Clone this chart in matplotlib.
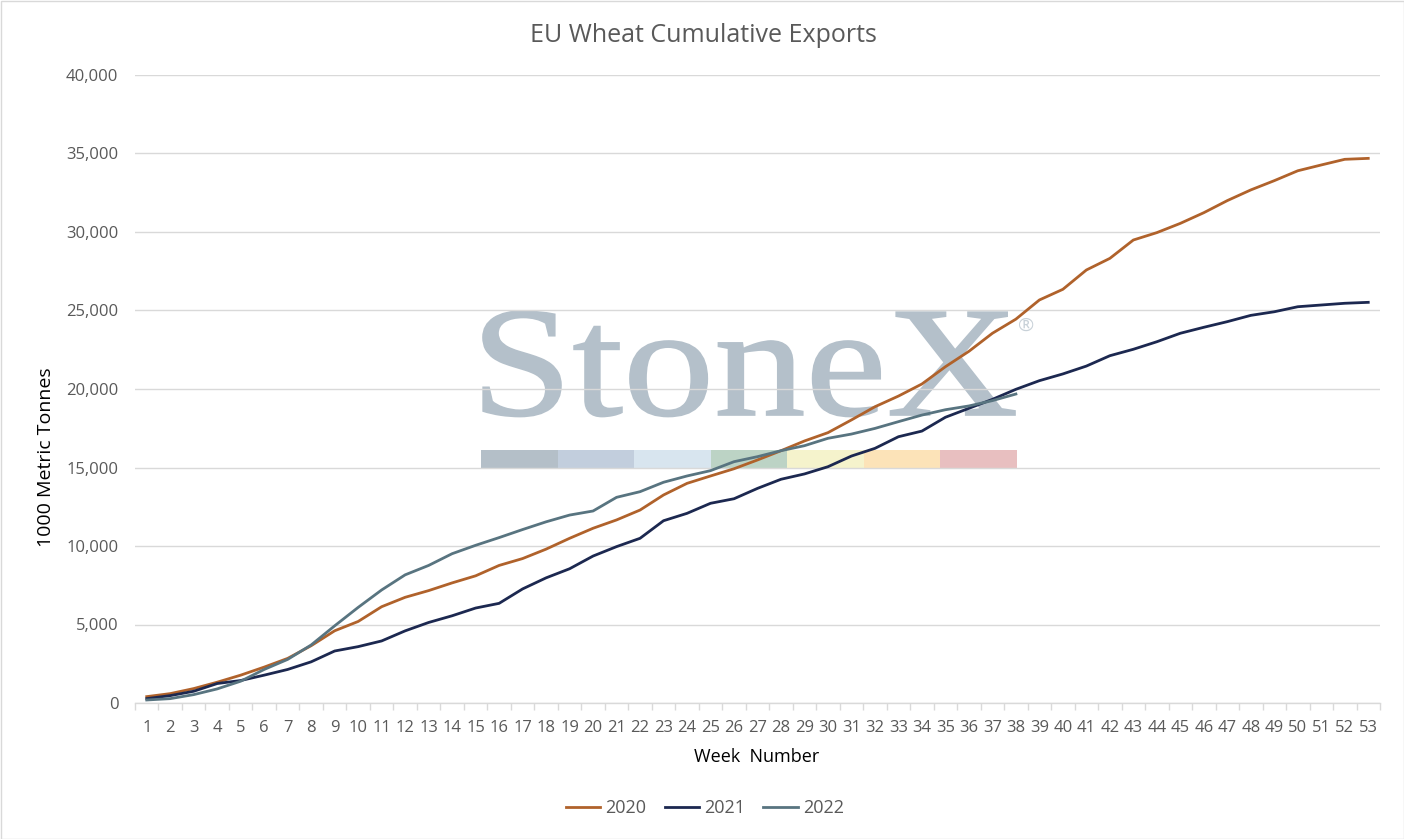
import numpy as np
import matplotlib
matplotlib.use('Agg')
import matplotlib.pyplot as plt
from matplotlib.patches import Rectangle, PathPatch
from matplotlib.textpath import TextPath
from matplotlib.font_manager import FontProperties
from matplotlib.transforms import Affine2D

plt.rcParams['font.family'] = ['Open Sans', 'DejaVu Sans']

weeks = list(range(1, 54))

exports_2020 = [406, 598, 919, 1325, 1774, 2287, 2842, 3650, 4600, 5193,
                6133, 6732, 7159, 7650, 8100, 8762, 9200, 9800, 10490, 11130,
                11660, 12290, 13250, 13990, 14460, 14920, 15480, 16070, 16690, 17220,
                18030, 18870, 19550, 20320, 21420, 22400, 23550, 24450, 25670, 26350,
                27580, 28320, 29490, 29960, 30550, 31230, 32000, 32680, 33270, 33900,
                34270, 34630, 34690]
exports_2021 = [278, 470, 748, 1240, 1432, 1774, 2137, 2623, 3312, 3590,
                3953, 4595, 5129, 5556, 6048, 6347, 7266, 7971, 8550, 9360,
                9960, 10490, 11610, 12080, 12720, 13010, 13670, 14250, 14590, 15050,
                15730, 16220, 16960, 17320, 18200, 18770, 19340, 19980, 20530, 20960,
                21460, 22120, 22530, 23010, 23550, 23930, 24290, 24690, 24920, 25240,
                25350, 25460, 25520]
exports_2022 = [192, 278, 534, 898, 1389, 2137, 2778, 3697, 4915, 6090,
                7200, 8163, 8762, 9510, 10044, 10535, 11048, 11540, 11970, 12230,
                13100, 13460, 14060, 14460, 14800, 15370, 15690, 16070, 16390, 16860,
                17130, 17490, 17920, 18340, 18680, 18920, 19260, 19680]

series = [('2020', exports_2020, '#B0622B'),
          ('2021', exports_2021, '#1C2850'),
          ('2022', exports_2022, '#587480')]

W, H = 1404, 839
fig = plt.figure(figsize=(W / 100, H / 100), dpi=100)
ax = fig.add_axes([135 / W, 1 - 703 / H, (1380 - 135) / W, (703 - 75) / H])
ax.set_zorder(1)
ax.patch.set_alpha(0)

grey_txt = '#595959'
grid_col = '#D9D9D9'
pix = Affine2D().scale(1 / W, 1 / H) + fig.transFigure   # pixel coords, y up


def py(y):
    return H - y


# StoneX watermark behind the plot
tp = TextPath((0, 0), 'StoneX', size=1,
              prop=FontProperties(family='Liberation Serif', weight='normal'))
bb = tp.get_extents()
sx = (1015 - 483) / (bb.x1 - bb.x0)
sy = (415 - 311) / bb.y1
tp = tp.transformed(Affine2D().translate(-bb.x0, 0).scale(sx, sy).translate(483, py(415)))
fig.patches.append(PathPatch(tp, transform=pix, facecolor='#B4C0CA', edgecolor='#B4C0CA',
                             lw=1.2, zorder=0))
fig.text(1026 / W, 1 - 326 / H, '®', fontsize=14, color='#C8D1D8', ha='center',
         va='center', zorder=0)
bar_colors = ['#B4BFC8', '#C2CEDD', '#D8E5EF', '#BCD3C5', '#F5F3CC', '#FCE3B8', '#E8BFC0']
seg = (1017 - 481) / len(bar_colors)
for i, c in enumerate(bar_colors):
    fig.patches.append(Rectangle((481 + i * seg, py(468)), seg, 18, transform=pix,
                                 facecolor=c, edgecolor='none', zorder=0))

for label, vals, col in series:
    ax.plot(weeks[:len(vals)], vals, color=col, lw=2.0, label=label, zorder=3,
            solid_joinstyle='round')

ax.set_xlim(0.5, 53.5)
ax.set_ylim(0, 40000)
ax.set_yticks(np.arange(0, 40001, 5000))
ax.set_yticklabels([f'{v:,}' for v in range(0, 40001, 5000)])
ax.set_xticks(weeks)
ax.set_xticks(np.arange(0.5, 54, 1), minor=True)
ax.tick_params(axis='x', which='major', length=0, labelsize=12, colors=grey_txt, pad=12)
ax.tick_params(axis='x', which='minor', length=5, color=grid_col, width=1)
ax.tick_params(axis='y', length=0, labelsize=12, colors=grey_txt, pad=12)

ax.grid(axis='y', color=grid_col, lw=1)
ax.set_axisbelow(True)
for s in ['top', 'right', 'left']:
    ax.spines[s].set_visible(False)
ax.spines['bottom'].set_color(grid_col)
ax.spines['bottom'].set_linewidth(1)

fig.text(757 / W, 1 - 757 / H, 'Week  Number', fontsize=13, color='black',
         ha='center', va='center')
fig.text(46 / W, 1 - 457 / H, '1000 Metric Tonnes', fontsize=14, color='black',
         ha='center', va='center', rotation=90)
fig.text(703 / W, 1 - 36 / H, 'EU Wheat Cumulative Exports', ha='center', va='center',
         fontsize=18, color=grey_txt)

fig.legend(loc='center', bbox_to_anchor=(705 / W, 1 - 808 / H), ncol=3, frameon=False,
           fontsize=13, handlelength=1.9, columnspacing=1.0, handletextpad=0.3,
           labelcolor=grey_txt)

fig.patches.append(Rectangle((0.5, 0.5), W - 1, H - 1, transform=pix,
                             facecolor='none', edgecolor='#D9D9D9', lw=1))

fig.savefig('out.png', dpi=100)
